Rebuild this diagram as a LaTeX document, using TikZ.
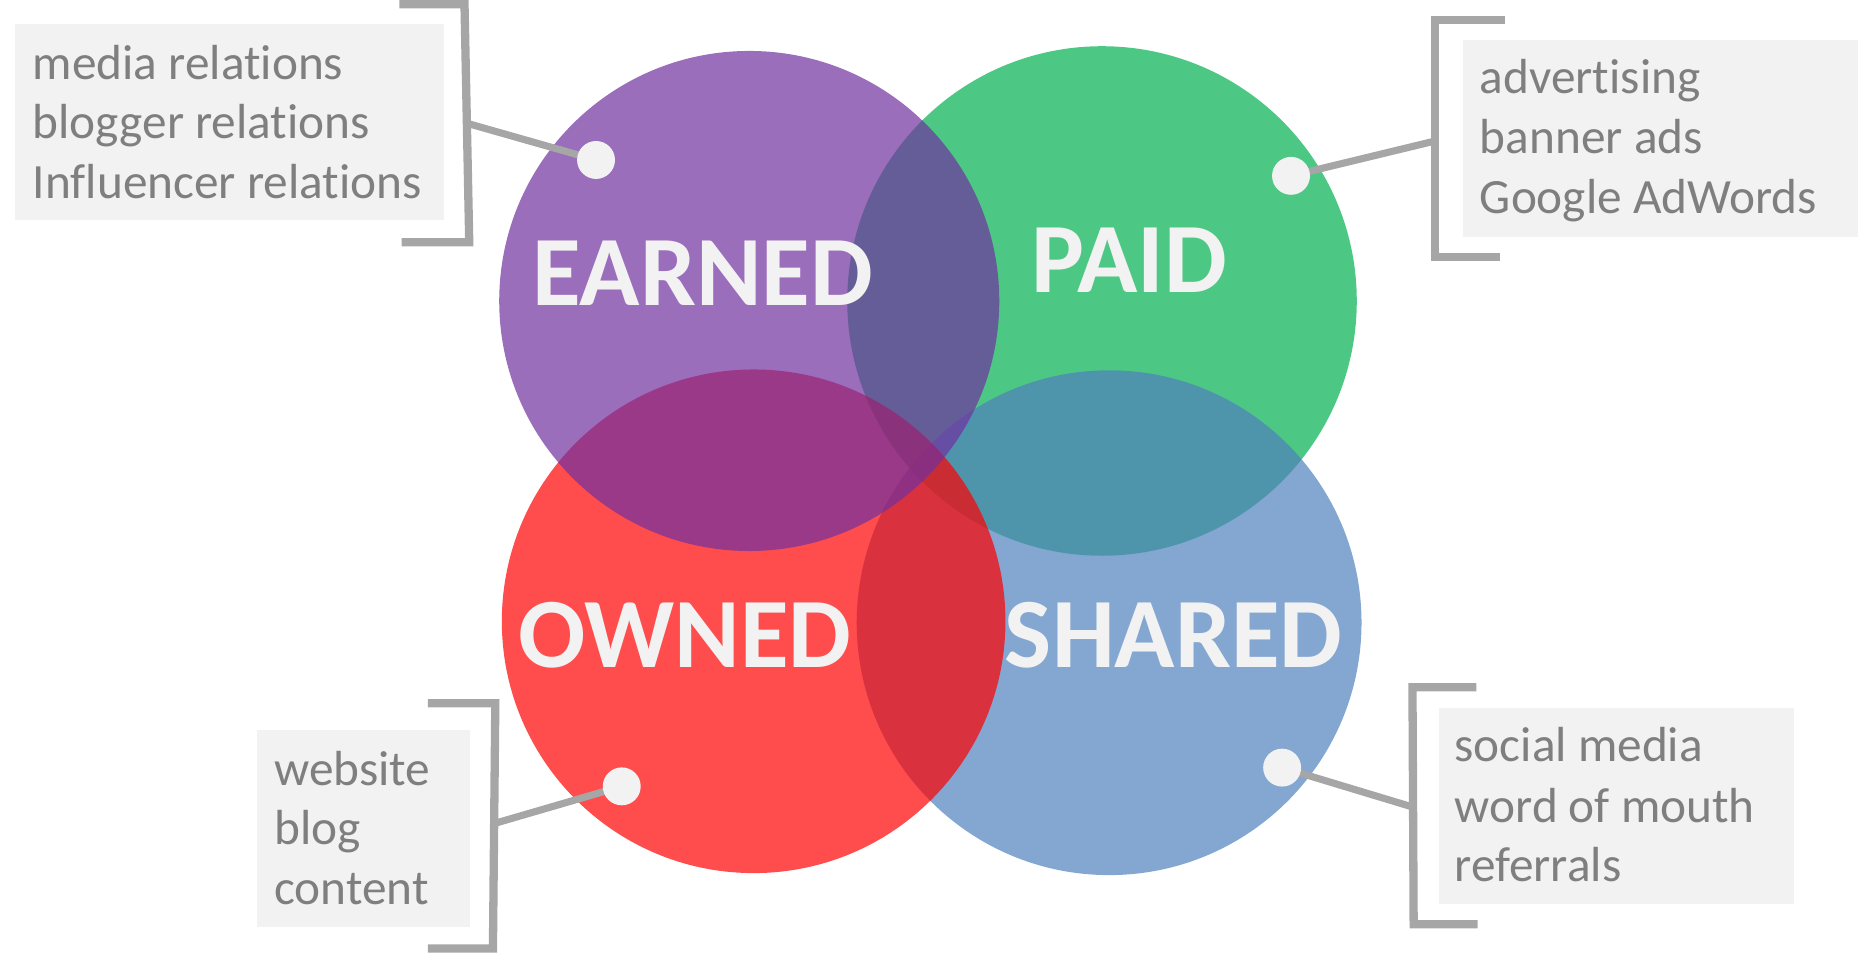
\documentclass[tikz,border=0pt]{standalone}
\usepackage{fontspec}
\setmainfont{Carlito}[Ligatures={NoCommon}]
\definecolor{earnedc}{RGB}{112,48,160}
\definecolor{paidc}{RGB}{0,176,80}
\definecolor{ownedc}{RGB}{255,0,0}
\definecolor{sharedc}{RGB}{79,129,189}
\definecolor{lightg}{HTML}{F2F2F2}
\definecolor{textg}{HTML}{7F7F7F}
\definecolor{lineg}{HTML}{A6A6A6}
\pgfdeclarelayer{bg}
\pgfdeclarelayer{mid}
\pgfsetlayers{bg,mid,main}
\tikzset{
  venn/.style={circle, inner sep=0pt, fill opacity=0.7, draw=none},
  biglabel/.style={anchor=base, inner sep=0pt, text=lightg, font=\fontsize{84}{100}\selectfont\bfseries},
  listtext/.style={anchor=base west, inner sep=0pt, text=textg, font=\fontsize{41.6}{50}\selectfont},
  listbox/.style={fill=lightg, draw=none, inner sep=0pt},
  bracketline/.style={draw=lineg, line width=7pt, miter limit=10},
  connline/.style={draw=lineg, line width=6pt},
  dotmark/.style={circle, fill=lightg, minimum size=32pt, inner sep=0pt, draw=none}
}
\begin{document}
\begin{tikzpicture}[x=1pt,y=-1pt]
\useasboundingbox (0,0) rectangle (1568,804);
\begin{pgfonlayer}{bg}
% circles (bottom to top: paid, shared, owned, earned)
\node[venn, fill=paidc, minimum size=430pt] (paid) at (930,254) {};
\node[venn, fill=sharedc, minimum size=426pt] (shared) at (936,525.5) {};
\node[venn, fill=ownedc, minimum size=425pt] (owned) at (636,524.3) {};
\node[venn, fill=earnedc, minimum size=422pt] (earned) at (632.3,254) {};
% big labels
\node[biglabel] (lEarned) at (593,257.8) {EARNED};
\node[biglabel] (lPaid) at (953,247) {PAID};
\node[biglabel] (lOwned) at (578,563.5) {OWNED};
\node[biglabel] (lShared) at (990.5,563.5) {SHARED};
% boxes
\path[listbox] (12.5,20.3) rectangle (375,186);
\path[listbox] (1235,33.8) rectangle (1568,199.7);
\path[listbox] (217,616) rectangle (397,782);
\path[listbox] (1214,597.6) rectangle (1514,763);
% texts
\node[listtext] (ta1) at (27.5,66.7) {media relations};
\node[listtext] (ta2) at (27.5,117.2) {blogger relations};
\node[listtext] (ta3) at (27.5,167.8) {Influencer relations};
\node[listtext] (tb1) at (1248.7,79.3) {advertising};
\node[listtext] (tb2) at (1248.7,129.8) {banner ads};
\node[listtext] (tb3) at (1248.7,180.3) {Google AdWords};
\node[listtext] (tc1) at (231.2,662.5) {website};
\node[listtext] (tc2) at (231.2,712.5) {blog};
\node[listtext] (tc3) at (231.2,763) {content};
\node[listtext] (td1) at (1227.4,643) {social media};
\node[listtext] (td2) at (1227.4,693.7) {word of mouth};
\node[listtext] (td3) at (1227.4,744.3) {referrals};
\end{pgfonlayer}
% dots
\node[dotmark] (da) at (503,135) {};
\node[dotmark] (db) at (1089.5,148.4) {};
\node[dotmark] (dc) at (524.7,663.6) {};
\node[dotmark] (dd) at (1082,647.8) {};
% brackets and connectors
\coordinate (ba) at (394,104);
\coordinate (bb) at (1211,119);
\coordinate (bc) at (417,695);
\coordinate (bd) at (1192,681);
\begin{pgfonlayer}{mid}
\draw[bracketline] (337,3.5) -- (392,3.5) -- (396,204.5) -- (339,204.5);
\draw[bracketline] (1270,17) -- (1211,17) -- (1211,217) -- (1266,217);
\draw[bracketline] (361,593.5) -- (418,593.5) -- (416,800.5) -- (361,800.5);
\draw[bracketline] (1246,580) -- (1192,580) -- (1193,780) -- (1247,780);
\draw[connline] (ba) -- (da.center);
\draw[connline] (bb) -- (db.center);
\draw[connline] (bc) -- (dc.center);
\draw[connline] (bd) -- (dd.center);
\end{pgfonlayer}
\end{tikzpicture}
\end{document}
